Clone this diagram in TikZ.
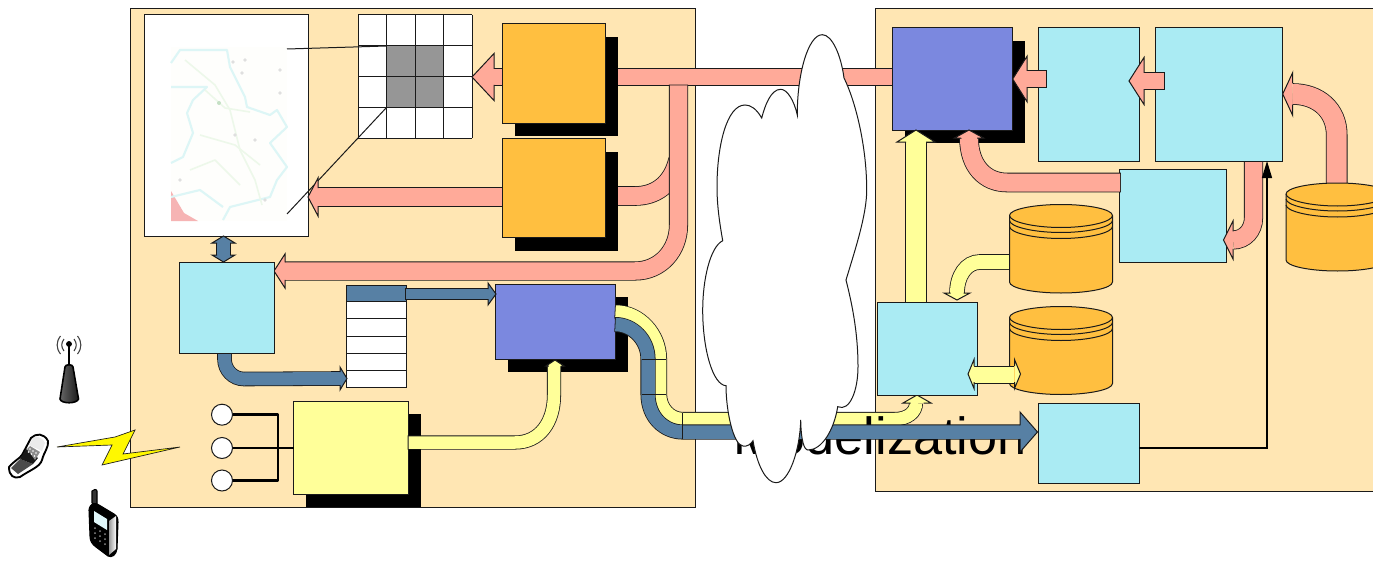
\documentclass[tikz,border=0pt]{standalone}
\usepackage{fontspec}
\setmainfont{Liberation Sans}
\usetikzlibrary{shadows,arrows.meta,calc}
\definecolor{panelc}{HTML}{FFE6B3}
\definecolor{orangec}{HTML}{FFBF40}
\definecolor{pinkc}{HTML}{FFAA99}
\definecolor{steelc}{HTML}{5780A4}
\definecolor{purplec}{HTML}{7B88DF}
\definecolor{cyanc}{HTML}{AAEBF3}
\definecolor{yellowc}{HTML}{FFFF99}
\definecolor{gridgray}{HTML}{969696}
\definecolor{edgecol}{HTML}{1A1A1A}
\definecolor{boltc}{HTML}{FFF800}
\definecolor{mapline}{HTML}{DDF6F6}
\definecolor{mapbg}{HTML}{FEFEFC}
\definecolor{mapred}{HTML}{F6B4B4}
\tikzset{
  x=0.75pt,y=-0.75pt,
  edge/.style={draw=edgecol,line width=0.75pt},
  bx/.style n args={2}{edge,anchor=north west,inner sep=0pt,outer sep=0pt,minimum width={#1*0.75pt},minimum height={#2*0.75pt}},
  shad/.style={general shadow={fill=black,shadow xshift=9.5pt,shadow yshift=-9.75pt}},
  panel/.style={fill=panelc,edge},
  thin tick/.style={draw=edgecol,line width=0.7pt},
  dot/.style={circle,draw=edgecol,fill=white,line width=0.75pt,minimum size=15.75pt,inner sep=0pt,outer sep=0pt},
  wire/.style={draw=black,line width=2.2pt,line join=round},
  maptrace/.style={draw=mapline,line width=1.6pt,line join=round},
  mapfaint/.style={draw=yellow!10!green!8!white,line width=1.2pt,line join=round},
}
\newcommand\bandline[3]{%
  \draw[line width={(#2+1.6)*0.75pt},draw=edgecol,shorten <=-0.6pt] #3;
  \draw[line width={#2*0.75pt},draw=#1] #3;}
\newcommand\headat[6]{%
  \begin{scope}[shift={(#2)},rotate=#3]
    \fill[#1] (0,0)--(-#4,#5)--(-#4,-#5)--cycle;
    \draw[edge,line join=miter] (-#4,#6)--(-#4,#5)--(0,0)--(-#4,-#5)--(-#4,-#6);
  \end{scope}}
\newcommand\dbcyl[4]{%
  \node[inner sep=0pt,minimum width={103*0.75pt},minimum height={#4*0.75pt},anchor=north] (#1) at (#2,#3) {};
  \begin{scope}[shift={(#2,#3)}]
    \filldraw[fill=orangec,edge] (-51.5,11) .. controls (-51.5,5) and (-28.4,0) .. (0,0) .. controls (28.4,0) and (51.5,5) .. (51.5,11) -- (51.5,{#4-11}) .. controls (51.5,{#4-5}) and (28.4,#4) .. (0,#4) .. controls (-28.4,#4) and (-51.5,{#4-5}) .. (-51.5,{#4-11}) -- cycle;
    \draw[edge] (-51.5,11) .. controls (-51.5,17) and (-28.4,23) .. (0,23) .. controls (28.4,23) and (51.5,17) .. (51.5,11);
    \draw[edge] (-51.5,16) .. controls (-51.5,22) and (-28.4,28) .. (0,28) .. controls (28.4,28) and (51.5,22) .. (51.5,16);
    \draw[edge] (-51.5,22) .. controls (-51.5,28) and (-28.4,34) .. (0,34) .. controls (28.4,34) and (51.5,28) .. (51.5,22);
  \end{scope}}
\begin{document}
\begin{tikzpicture}
\clip (0,0) rectangle (1373,560);
\fill[white] (0,0) rectangle (1373,560);
% panels
\filldraw[panel] (130,9) rectangle (695,507);
\fill[panelc] (875,9) rectangle (1380,491);
\draw[edge] (1380,9) -- (875,9) -- (875,491) -- (1380,491);

% map sheet
\node[bx={164}{221},fill=white] (mapsheet) at (144.5,15) {};
\fill[mapbg] (171,47) rectangle (287,221);
\fill[mapred] (171,191) -- (171,221) -- (198,221) -- (184,213) -- cycle;
\draw[maptrace] (171,63) -- (180,50) -- (197,50) -- (227,50) -- (230,67) -- (245,97) -- (247,107) -- (270,115) -- (277,110) -- (287,127) -- (270,143) -- (287,167) -- (277,180) -- (270,197) -- (230,207) -- (223,220);
\draw[maptrace] (171,87) -- (207,87) -- (193,100) -- (187,113) -- (193,133) -- (183,157) -- (171,163);
\draw[maptrace] (171,197) -- (200,190) -- (223,207);
\draw[mapfaint] (185,60) -- (215,85) -- (230,110) -- (240,150) -- (255,180) -- (262,205);
\draw[mapfaint] (205,90) -- (225,108) -- (250,112);
\draw[mapfaint] (200,135) -- (235,145) -- (260,165);
\draw[mapfaint] (190,170) -- (215,160) -- (240,185);
\fill[green!30!gray!35] (219,103) circle (2);
\foreach \mx/\my in {242/73,280/70,280/93,235/135,255/140,180/180,265/200,245/60,233/62}
  \fill[gray!25] (\mx,\my) circle (1.8);

% grid
\fill[white] (358,15) rectangle (472,138);
\fill[gridgray] (386.5,46) rectangle (443.5,107.5);
\foreach \gx in {358,386.5,415,443.5,472} \draw[edge] (\gx,15) -- (\gx,138);
\foreach \gy in {15,46,76.5,107.5,138} \draw[edge] (358,\gy) -- (472,\gy);
\coordinate (mA) at (287,49);
\coordinate (gA) at (386.5,46);
\coordinate (mB) at (287,214);
\coordinate (gB) at (386.5,107.5);
\draw[edge] (mA) -- (gA);
\draw[edge] (mB) -- (gB);

% pink bands behind the orange boxes
\coordinate (p1s) at (892,77);
\coordinate (p1e) at (494,77);
\coordinate (p1t) at (472,77);
\bandline{pinkc}{16}{(p1s) -- (p1e)}
\headat{pinkc}{p1t}{180}{22}{23.5}{8}
\coordinate (p3s) at (612,196);
\coordinate (p3e) at (678,160);
\bandline{pinkc}{18}{(p3s) -- (635,196) .. controls (655,196) and (672,185) .. (p3e)}
\coordinate (p2s) at (678.5,85.5);
\coordinate (p2e) at (285,271);
\coordinate (p2t) at (274,271);
\bandline{pinkc}{17.5}{(p2s) -- (678.5,225) .. controls (678.5,250.4) and (660.4,271) .. (635,271) -- (p2e)}
\headat{pinkc}{p2t}{180}{11}{17}{8.75}
\coordinate (p4s) at (505,197);
\coordinate (p4e) at (318,197);
\coordinate (p4t) at (308,197);
\bandline{pinkc}{18}{(p4s) -- (p4e)}
\headat{pinkc}{p4t}{180}{10}{19}{9}

% left boxes
\node[bx={102.5}{99},fill=orangec,shad] (orangeA) at (502.5,24) {};
\node[bx={102.5}{99},fill=orangec,shad] (orangeB) at (502.5,138.5) {};
\node[bx={95}{91},fill=cyanc] (cyanL) at (179,262) {};
\node[bx={120}{75},fill=purplec,shad] (purpleL) at (495,284) {};
\node[bx={115}{93},fill=yellowc,shad] (yellowL) at (293.5,401) {};

% table
\node[bx={60}{16},fill=steelc] (t1) at (346,285) {};
\node[bx={60}{17},fill=white] (t2) at (346,301) {};
\node[bx={60}{18},fill=white] (t3) at (346,318) {};
\node[bx={60}{17},fill=white] (t4) at (346,336) {};
\node[bx={60}{17},fill=white] (t5) at (346,353) {};
\node[bx={60}{17},fill=white] (t6) at (346,370) {};

% steel arrows on the left
\coordinate (b1a) at (223.5,243);
\coordinate (b1b) at (223.5,255);
\coordinate (b1n) at (223.5,236);
\coordinate (b1s) at (223.5,262);
\bandline{steelc}{13}{(b1a) -- (b1b)}
\headat{steelc}{b1n}{90}{7}{11.5}{6.5}
\headat{steelc}{b1s}{270}{7}{11.5}{6.5}
\coordinate (b2s) at (406,294);
\coordinate (b2e) at (488,294);
\coordinate (b2t) at (496,294);
\bandline{steelc}{10}{(b2s) -- (b2e)}
\headat{steelc}{b2t}{0}{8}{11}{5}
\coordinate (b3s) at (224.5,354);
\coordinate (b3e) at (340,378.5);
\coordinate (b3t) at (347,378.5);
\bandline{steelc}{13}{(b3s) -- (224.5,359) .. controls (224.5,370) and (233,379) .. (244,379) -- (b3e)}
\headat{steelc}{b3t}{0}{7}{11.5}{6.5}

% yellow band from the purple box to the far box
\coordinate (y1s) at (615.5,311.5);
\coordinate (y1e) at (916,403);
\coordinate (y1t) at (917,395);
\bandline{yellowc}{12.5}{(y1s) .. controls (640,311.5) and (660,334) .. (660,359) -- (660,394) .. controls (660,408) and (670,419) .. (682.6,419) -- (895,419) .. controls (908,419) and (916,412) .. (y1e)}
\headat{yellowc}{y1t}{90}{8}{14}{6.5}

% word behind the steel arrow
\node[anchor=base west,inner sep=0pt,font=\fontsize{39.2pt}{44pt}\selectfont] (word) at (733,454) {Modelization};

% steel band
\coordinate (s1s) at (615.5,324.5);
\coordinate (s1e) at (1020,432);
\coordinate (s1t) at (1037.5,432);
\bandline{steelc}{13.5}{(s1s) .. controls (633,324.5) and (648,340) .. (648,359) -- (648,394) .. controls (648,418) and (665,432) .. (682.6,432) -- (s1e)}
\headat{steelc}{s1t}{0}{17.5}{20}{6.75}
\draw[thin tick] (642,359) -- (666,359);
\draw[thin tick] (642,394) -- (666,394);
\draw[thin tick] (682.6,413) -- (682.6,439);

% yellow arrow from the yellow box to the purple box
\coordinate (y2s) at (408.5,442.5);
\coordinate (y2e) at (554,366);
\coordinate (y2t) at (555,360);
\bandline{yellowc}{12.5}{(y2s) -- (515,442.5) .. controls (540,442.5) and (554,422) .. (554,395) -- (y2e)}
\headat{yellowc}{y2t}{90}{6}{9}{6.25}

% circles and their wires
\node[dot] (c1) at (222,414.7) {};
\node[dot] (c2) at (222,448) {};
\node[dot] (c3) at (222,480.5) {};
\coordinate (wireTop) at (278,414.7);
\coordinate (wireBot) at (278,480.5);
\draw[wire] (c1.east) -- (wireTop) -- (wireBot) -- (c3.east);
\draw[draw=black,line width=1.5pt] (c2.east) -- (c2.east -| yellowL.west);

% lightning
\filldraw[fill=boltc,draw=edgecol,line width=0.5pt,line join=miter] (57,447) -- (115,437) -- (135,430) -- (123,454) -- (180,447) -- (102,465) -- (112,445) -- cycle;

% antenna
\draw[line width=1.2pt,draw=black] (69,344) -- (69,367);
\filldraw[fill=black,draw=black] (69,344) circle (2.6);
\draw[line width=0.8pt,draw=black!75] (64,339) .. controls (61,343) and (61,347) .. (64,351);
\draw[line width=0.8pt,draw=black!75] (60.5,336) .. controls (56,342) and (56,348) .. (60.5,354);
\draw[line width=0.8pt,draw=black!75] (74,339) .. controls (77,343) and (77,347) .. (74,351);
\draw[line width=0.8pt,draw=black!75] (77.5,336) .. controls (82,342) and (82,348) .. (77.5,354);
\shade[left color=black!60,middle color=white,right color=black!90] (65,367) .. controls (65,364) and (73,364) .. (73,367) -- (78.5,399) .. controls (77,404) and (61,404) .. (60,399) -- cycle;
\draw[draw=black,line width=1.2pt] (65,367) .. controls (65,364) and (73,364) .. (73,367) -- (78.5,399) .. controls (77,404) and (61,404) .. (60,399) -- cycle;

% flip phone
\filldraw[fill=white,draw=black,line width=1.4pt,line join=round] (9,467) .. controls (14,461) and (19,459) .. (22,455) -- (31,438) .. controls (36,433) and (44,433) .. (48,441) .. controls (49,447) and (44,452) .. (42,460) .. controls (40,467) and (30,470) .. (20,477) .. controls (14,479) and (9,476) .. (9,467) -- cycle;
\fill[black!70] (11,468) -- (20,459) -- (33,464) -- (18,474) -- cycle;
\fill[black!90] (20,459) -- (26,449) -- (38,458) -- (33,464) -- cycle;
\fill[black!8] (29,445) -- (34,437) .. controls (38,436) and (43,438) .. (45,443) -- (42,451) -- cycle;
\fill[black!45] (27,449) -- (30,446) -- (40,452) -- (35,460) -- cycle;
\foreach \kx/\ky in {30/449,33/451,36/453,28.5/452,31.5/454,34.5/456}
  \fill[white] (\kx,\ky) circle (0.8);

% candy-bar phone
\filldraw[fill=black!80,draw=black,line width=0.8pt,line join=round] (92,503) -- (92,491) .. controls (93,489) and (97,489) .. (97,491) -- (97,506) -- cycle;
\filldraw[fill=black,draw=black,line width=0.8pt,line join=round] (89,510) .. controls (90,503) and (95,502) .. (99,505) -- (114,514) .. controls (117,516) and (118,518) .. (118,522) -- (117,549) .. controls (116,555) and (112,558) .. (108,556) -- (96,547) .. controls (92,544) and (90,541) .. (90,536) -- cycle;
\shade[left color=black!40,right color=white] (109,521) -- (116,516) -- (116,549) -- (109,555) -- cycle;
\fill[cyanc!35!white] (94,511) -- (107,519) -- (107,530) -- (94,522) -- cycle;
\foreach \kx/\ky in {95/528,100/531,105/534,95/533,100/536,105/539,95/538,100/541,105/544}
  \fill[black!45] (\kx,\ky) circle (1);

% right boxes
\node[bx={120}{102},fill=purplec,shad] (purpleR) at (892,28) {};
\node[bx={101}{133},fill=cyanc] (cyanA) at (1038.5,28) {};
\node[bx={127}{133},fill=cyanc] (cyanB) at (1155,28) {};
\node[bx={107}{93},fill=cyanc] (cyanC) at (1119,169) {};
\node[bx={100}{93},fill=cyanc] (cyanD) at (877.5,302) {};
\node[bx={100.5}{80},fill=cyanc] (cyanE) at (1038.5,403.5) {};

% cylinders and their arrows
\coordinate (r5s) at (1336.7,190);
\coordinate (r5e) at (1292.7,94);
\coordinate (r5t) at (1282.7,94);
\bandline{pinkc}{20}{(r5s) -- (1336.7,135) .. controls (1336.7,110) and (1318,94) .. (r5e)}
\headat{pinkc}{r5t}{180}{10}{21.5}{10.5}
\coordinate (y4s) at (1020,262);
\coordinate (y4e) at (957,293);
\coordinate (y4t) at (957,300);
\bandline{yellowc}{14}{(y4s) -- (980,262) .. controls (966,262) and (957,276) .. (y4e)}
\headat{yellowc}{y4t}{270}{7}{13}{6.5}
\dbcyl{dbA}{1061}{204.5}{88.5}
\dbcyl{dbB}{1061}{306.5}{88}
\dbcyl{dbC}{1337.5}{183}{88}

% arrows on the right
\coordinate (r1s) at (1046,79);
\coordinate (r1e) at (1027,79);
\coordinate (r1t) at (1012.7,79);
\bandline{pinkc}{16}{(r1s) -- (r1e)}
\headat{pinkc}{r1t}{180}{14.5}{23}{8}
\coordinate (r2s) at (1163.7,81);
\coordinate (r2e) at (1144,81);
\coordinate (r2t) at (1129,81);
\bandline{pinkc}{16}{(r2s) -- (r2e)}
\headat{pinkc}{r2t}{180}{15}{23.5}{8}
\coordinate (r3s) at (1120,182.5);
\coordinate (r3e) at (969,138);
\coordinate (r3t) at (969,130);
\bandline{pinkc}{18}{(r3s) -- (1007,182.5) .. controls (985,182.5) and (969,166) .. (r3e)}
\headat{pinkc}{r3t}{90}{8}{14.5}{8}
\coordinate (r4s) at (1253.5,162);
\coordinate (r4e) at (1233,240);
\coordinate (r4t) at (1223.5,240);
\bandline{pinkc}{17.5}{(r4s) -- (1253.5,218) .. controls (1253.5,230) and (1245,240) .. (r4e)}
\headat{pinkc}{r4t}{180}{9.5}{19}{8.75}
\coordinate (y3s) at (916,302);
\coordinate (y3e) at (916,142);
\coordinate (y3t) at (916,130);
\bandline{yellowc}{20}{(y3s) -- (y3e)}
\headat{yellowc}{y3t}{90}{12}{19}{10}
\coordinate (y5a) at (974,375);
\coordinate (y5b) at (1014,375);
\coordinate (y5w) at (968,374);
\coordinate (y5o) at (1020.5,374);
\bandline{yellowc}{16}{(y5a) -- (y5b)}
\headat{yellowc}{y5w}{180}{6}{14.5}{8}
\headat{yellowc}{y5o}{0}{6}{14.5}{8}
\coordinate (kS) at (1139,448);
\coordinate (kT) at (1267,161);
\draw[draw=black,line width=1pt,-{Triangle[length=12.75pt,width=7.5pt]}] (kS) -| (kT);

% cloud
\filldraw[fill=white,draw=edgecol,line width=0.75pt]
 (761.7,118) .. controls (756,108) and (750,105) .. (745,105)
 .. controls (727,105) and (717,145) .. (717,187)
 .. controls (717,207) and (720,225) .. (722.7,240.7)
 .. controls (710,247) and (702.7,280) .. (702.7,310)
 .. controls (702.7,350) and (713,385) .. (726,385.7)
 .. controls (726,410) and (733,445) .. (743,446)
 .. controls (747,447) and (751,444) .. (753,440.7)
 .. controls (757,465) and (766,482.7) .. (776,482.7)
 .. controls (789,482.7) and (800,450) .. (800.7,420)
 .. controls (801,440) and (804,450) .. (808,450)
 .. controls (822,450) and (834,430) .. (837.7,406.7)
 .. controls (850,412) and (858,390) .. (858,366.7)
 .. controls (858,330) and (851,300) .. (846,280)
 .. controls (855,250) and (866.7,215) .. (866.7,190)
 .. controls (866.7,145) and (855,100) .. (844,78)
 .. controls (841,55) and (832,34.7) .. (822.3,34.7)
 .. controls (808,34.7) and (797,75) .. (797.3,115)
 .. controls (794,100) and (787,89.3) .. (780.7,89.3)
 .. controls (771,89.3) and (765,105) .. (761.7,118) -- cycle;
\end{tikzpicture}
\end{document}
